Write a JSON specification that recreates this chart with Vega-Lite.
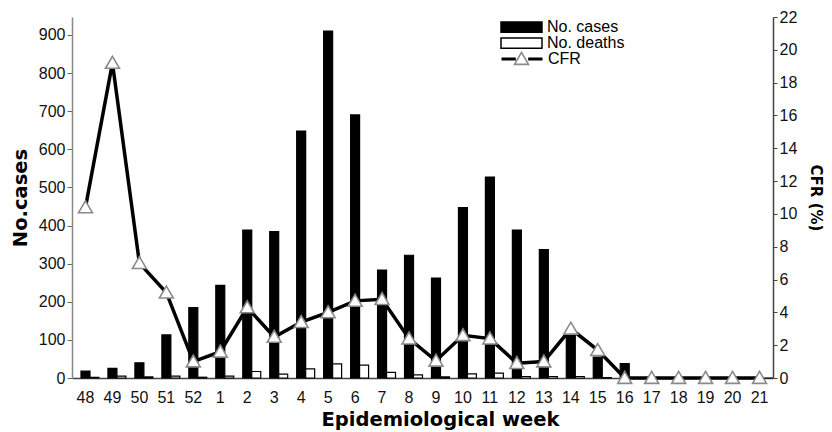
{
  "$schema": "https://vega.github.io/schema/vega-lite/v6.json",
  "width": 701,
  "height": 361,
  "autosize": {"type": "none"},
  "padding": {"left": 72, "top": 17, "right": 59, "bottom": 54},
  "background": "white",
  "config": {"view": {"stroke": null}, "font": "Liberation Sans"},
  "data": {
    "values": [
      {"i": 1, "week": "48", "cases": 18, "deaths": 2, "cfr": 10.4},
      {"i": 2, "week": "49", "cases": 25, "deaths": 5, "cfr": 19.2},
      {"i": 3, "week": "50", "cases": 40, "deaths": 3, "cfr": 7.0},
      {"i": 4, "week": "51", "cases": 113, "deaths": 5, "cfr": 5.2},
      {"i": 5, "week": "52", "cases": 185, "deaths": 2, "cfr": 1.0},
      {"i": 6, "week": "1", "cases": 243, "deaths": 5, "cfr": 1.6},
      {"i": 7, "week": "2", "cases": 388, "deaths": 17, "cfr": 4.3},
      {"i": 8, "week": "3", "cases": 384, "deaths": 10, "cfr": 2.5},
      {"i": 9, "week": "4", "cases": 648, "deaths": 24, "cfr": 3.4},
      {"i": 10, "week": "5", "cases": 910, "deaths": 37, "cfr": 4.0},
      {"i": 11, "week": "6", "cases": 690, "deaths": 34, "cfr": 4.7},
      {"i": 12, "week": "7", "cases": 283, "deaths": 15, "cfr": 4.8},
      {"i": 13, "week": "8", "cases": 322, "deaths": 8, "cfr": 2.4},
      {"i": 14, "week": "9", "cases": 262, "deaths": 3, "cfr": 1.05},
      {"i": 15, "week": "10", "cases": 447, "deaths": 11, "cfr": 2.6},
      {"i": 16, "week": "11", "cases": 527, "deaths": 13, "cfr": 2.4},
      {"i": 17, "week": "12", "cases": 388, "deaths": 4, "cfr": 0.9},
      {"i": 18, "week": "13", "cases": 337, "deaths": 4, "cfr": 1.0},
      {"i": 19, "week": "14", "cases": 125, "deaths": 4, "cfr": 3.0},
      {"i": 20, "week": "15", "cases": 55, "deaths": 1, "cfr": 1.7},
      {"i": 21, "week": "16", "cases": 38, "deaths": 0, "cfr": 0},
      {"i": 22, "week": "17", "cases": 0, "deaths": 0, "cfr": 0},
      {"i": 23, "week": "18", "cases": 0, "deaths": 0, "cfr": 0},
      {"i": 24, "week": "19", "cases": 0, "deaths": 0, "cfr": 0},
      {"i": 25, "week": "20", "cases": 0, "deaths": 0, "cfr": 0},
      {"i": 26, "week": "21", "cases": 0, "deaths": 0, "cfr": 0}
    ]
  },
  "layer": [
    {
      "transform": [{"fold": ["cases", "deaths"], "as": ["series", "count"]}],
      "mark": {"type": "bar", "stroke": "black", "strokeWidth": 1.2},
      "encoding": {
        "x": {
          "field": "week",
          "type": "nominal",
          "scale": {
            "domain": ["48","49","50","51","52","1","2","3","4","5","6","7","8","9","10","11","12","13","14","15","16","17","18","19","20","21"],
            "paddingInner": 0,
            "paddingOuter": 0
          },
          "axis": {
            "labelAngle": 0,
            "ticks": false,
            "domainColor": "#444",
            "domainWidth": 1.5,
            "labelFontSize": 16,
            "labelColor": "#111",
            "labelPadding": 11,
            "title": "Epidemiological week",
            "titleFont": "DejaVu Sans",
            "titleFontWeight": "bold",
            "titleFontSize": 19.5,
            "titleColor": "black",
            "titlePadding": 5,
            "titleX": 368
          }
        },
        "xOffset": {
          "field": "series",
          "scale": {"domain": ["_pad", "cases", "deaths"], "paddingInner": 0, "paddingOuter": 0}
        },
        "y": {
          "field": "count",
          "type": "quantitative",
          "scale": {"domain": [0, 947], "nice": false},
          "axis": {
            "orient": "left",
            "values": [0, 100, 200, 300, 400, 500, 600, 700, 800, 900],
            "grid": false,
            "tickSize": 5,
            "tickColor": "#666",
            "domainColor": "#888",
            "domainWidth": 1.5,
            "labelFontSize": 16,
            "labelColor": "#111",
            "labelPadding": 2,
            "title": "No.cases",
            "titleFont": "DejaVu Sans",
            "titleFontWeight": "bold",
            "titleFontSize": 19.5,
            "titleColor": "black",
            "titlePadding": 8
          }
        },
        "fill": {
          "field": "series",
          "type": "nominal",
          "scale": {"domain": ["cases", "deaths"], "range": ["black", "white"]},
          "legend": {
            "orient": "none",
            "legendX": 428,
            "legendY": 2,
            "title": null,
            "symbolType": "M-1,-0.25L1,-0.25L1,0.25L-1,0.25Z",
            "symbolSize": 1681,
            "symbolStrokeColor": "black",
            "symbolStrokeWidth": 1.5,
            "clipHeight": 16,
            "labelFontSize": 16,
            "labelColor": "black",
            "labelOffset": 4,
            "rowPadding": 0,
            "labelExpr": "datum.value == 'cases' ? 'No. cases' : 'No. deaths'"
          }
        }
      }
    },
    {
      "mark": {"type": "line", "strokeWidth": 3.5},
      "encoding": {
        "x": {"field": "week", "type": "nominal"},
        "order": {"field": "i", "type": "quantitative"},
        "y": {
          "field": "cfr",
          "type": "quantitative",
          "scale": {"domain": [0, 22], "nice": false},
          "axis": {
            "orient": "right",
            "values": [0, 2, 4, 6, 8, 10, 12, 14, 16, 18, 20, 22],
            "grid": false,
            "tickSize": 4,
            "tickColor": "#444",
            "domainColor": "#444",
            "domainWidth": 1.5,
            "labelFontSize": 16,
            "labelColor": "#111",
            "labelPadding": 2,
            "title": "CFR (%)",
            "titleFont": "DejaVu Sans",
            "titleFontWeight": "bold",
            "titleFontSize": 15,
            "titleColor": "black",
            "titlePadding": 11
          }
        },
        "stroke": {
          "datum": "CFR",
          "scale": {"domain": ["CFR"], "range": ["black"]},
          "legend": {
            "orient": "none",
            "legendX": 428,
            "legendY": 34,
            "title": null,
            "symbolType": "M-1,0L-0.3,0M0.3,0L1,0",
            "symbolSize": 1681,
            "symbolStrokeWidth": 3,
            "clipHeight": 16,
            "labelFontSize": 16,
            "labelColor": "black",
            "labelOffset": 4
          }
        }
      }
    },
    {
      "mark": {"type": "point", "shape": "M0,-0.32L0.34,0.26L-0.34,0.26Z", "size": 1681, "filled": true, "fill": "white", "strokeWidth": 1.6, "opacity": 1},
      "encoding": {
        "x": {"field": "week", "type": "nominal"},
        "y": {
          "field": "cfr",
          "type": "quantitative",
          "scale": {"domain": [0, 22], "nice": false},
          "axis": null
        },
        "stroke": {
          "datum": "CFR",
          "scale": {"domain": ["CFR"], "range": ["#8a8a8a"]},
          "legend": {
            "orient": "none",
            "legendX": 428,
            "legendY": 34,
            "title": null,
            "symbolType": "M0,-0.32L0.34,0.26L-0.34,0.26Z",
            "symbolSize": 1681,
            "symbolFillColor": "white",
            "symbolStrokeWidth": 1.6,
            "clipHeight": 16,
            "labelFontSize": 16,
            "labelColor": "black",
            "labelOpacity": 0,
            "labelOffset": 4
          }
        }
      }
    }
  ],
  "resolve": {
    "scale": {"y": "independent", "stroke": "independent"},
    "legend": {"stroke": "independent"}
  }
}
